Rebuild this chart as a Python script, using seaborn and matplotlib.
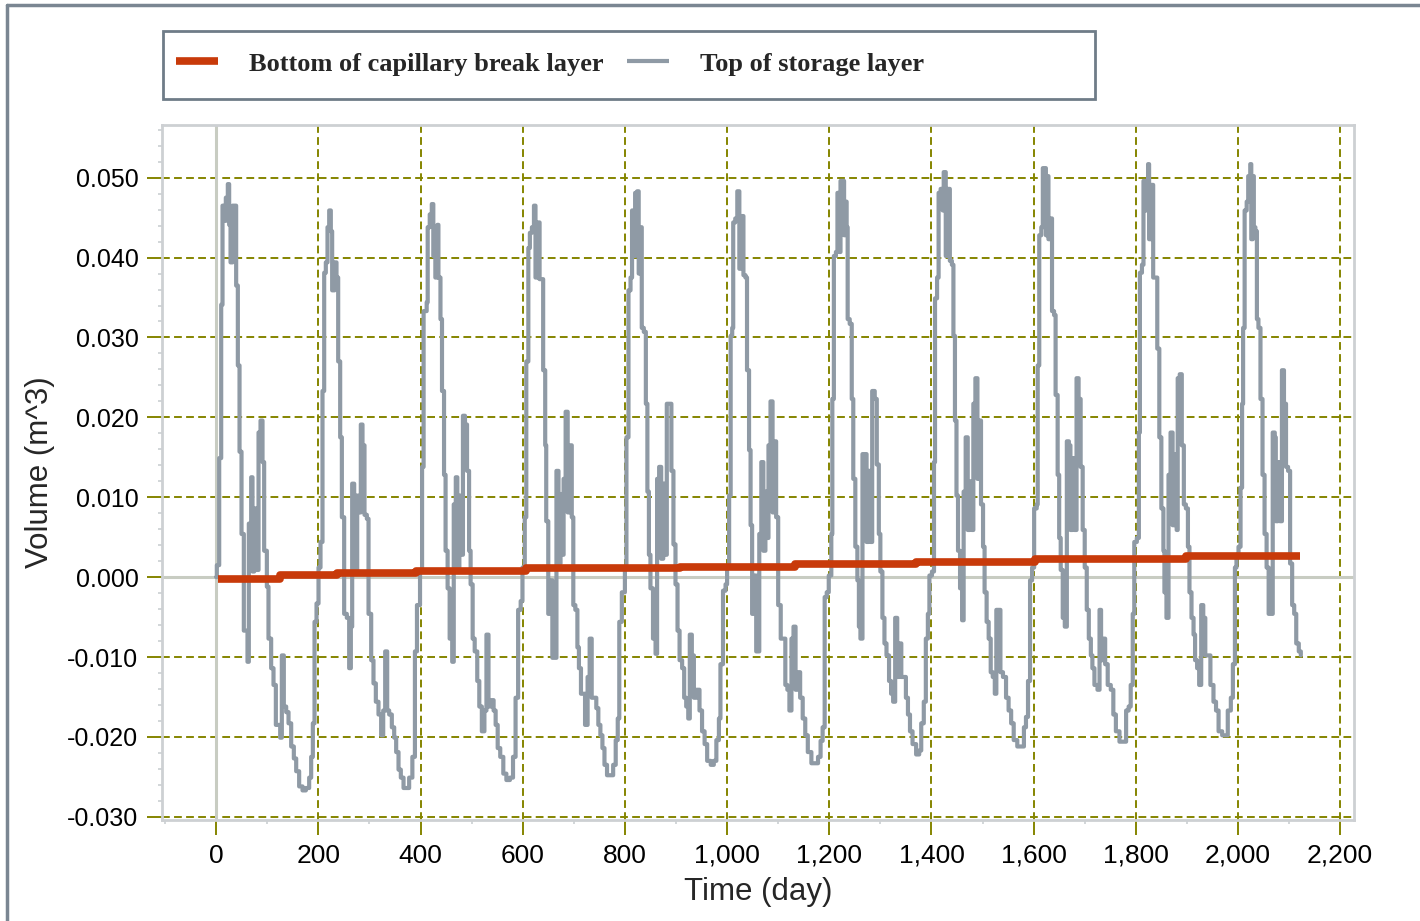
import matplotlib
matplotlib.use("Agg")
import matplotlib.pyplot as plt
import matplotlib.ticker as mticker
from matplotlib.patches import Rectangle
from matplotlib.lines import Line2D
import seaborn as sns
import pandas as pd

# ---- data ----
top_day = [
    0, 1.3, 5.9, 9.8, 12.4, 16.3, 18.9, 22.8, 25.4, 28.1, 32.0, 37.2, 39.1, 42.4, 45.7, 49.6, 54.1, 61.3, 63.9, 68.5,
    71.1, 74.4, 78.3, 82.9, 86.8, 90.7, 93.9, 99.2, 102.4, 107.6, 112.2, 116.8, 125.3, 128.5, 132.4, 137.0, 141.6,
    146.8, 152.0, 156.6, 162.4, 169.0, 175.5, 182.0, 185.9, 189.2, 192.5, 196.4,
    200.3, 204.2, 208.1, 211.4, 214.6, 217.9, 221.2, 224.4, 227.0, 231.6, 235.5, 238.8, 242.7, 246.0, 250.5, 255.7,
    260.3, 263.6, 266.2, 270.1, 273.4, 276.0, 279.9, 283.1, 286.4, 290.3, 294.9, 298.2, 303.4, 307.9, 312.5, 317.7,
    322.9, 326.9, 330.8, 334.7, 338.6, 343.8, 348.4, 352.3, 356.9, 361.4, 366.7, 373.2, 377.7,
    384, 389, 393, 399, 403, 406, 412, 414, 418, 422, 425, 429, 433, 435, 439, 442, 446, 449, 453, 457, 462, 465, 469,
    472, 476, 479, 483, 487, 491, 495, 498, 502, 506, 511, 515, 520, 525, 529, 533, 538, 543, 547, 551, 556, 562, 568,
    575, 581, 586, 591, 596,
    599.5, 604, 607, 611, 614, 618, 622, 625, 629, 633, 637, 640, 644, 646, 650, 654, 658, 662, 666, 670, 674, 678,
    680, 684, 688, 692, 696, 699, 703, 707, 710, 714, 718, 722, 727, 731, 735, 740, 744, 748, 752, 756, 760, 765, 772,
    777, 782, 786, 789, 794,
    800, 803, 807, 811, 814, 818, 820, 824, 827, 831, 833, 837, 841, 844, 847, 850, 855, 860, 863, 867, 871, 875, 879,
    882, 887, 891, 895, 899, 903, 907, 912, 916, 920, 924, 927, 931, 935, 940, 946, 951, 956, 961, 968, 974, 979, 984,
    987, 992, 997,
    1000, 1004, 1007, 1010, 1012, 1016, 1020, 1024, 1028, 1032, 1036, 1039, 1043, 1046, 1049, 1053, 1057, 1060, 1063,
    1067, 1071, 1075, 1079, 1081, 1085, 1089, 1092, 1096, 1100, 1105, 1110, 1114, 1118, 1122, 1126, 1130, 1134, 1138,
    1143, 1148, 1153, 1158, 1165, 1173, 1178, 1183, 1187, 1191, 1195,
    1199, 1204, 1206, 1209, 1213, 1216, 1220, 1222, 1226, 1229, 1231, 1234, 1236, 1240, 1244, 1247, 1251, 1255, 1258,
    1261, 1265, 1269, 1273, 1277, 1281, 1284, 1289, 1293, 1297, 1300, 1304, 1308, 1312, 1317, 1321, 1325, 1329, 1333,
    1337, 1341, 1346, 1350, 1354, 1358, 1363, 1370, 1376, 1380, 1385, 1389, 1393, 1396,
    1401, 1405, 1407, 1411, 1414, 1418, 1422, 1424, 1428, 1432, 1436, 1440, 1443, 1446, 1449, 1452, 1456, 1460, 1463,
    1467, 1471, 1475, 1479, 1482, 1486, 1490, 1494, 1497, 1501, 1504, 1508, 1512, 1516, 1520, 1524, 1527, 1531, 1535,
    1540, 1546, 1551, 1556, 1561, 1568, 1576, 1581, 1585, 1589, 1593, 1597,
    1601, 1606, 1608, 1611, 1615, 1618, 1622, 1624, 1627, 1629, 1633, 1636, 1640, 1643, 1647, 1650, 1653, 1657, 1661,
    1665, 1669, 1672, 1676, 1680, 1684, 1688, 1692, 1696, 1700, 1704, 1708, 1712, 1715, 1719, 1725, 1729, 1732, 1736,
    1740, 1745, 1751, 1756, 1761, 1768, 1776, 1781, 1786, 1790, 1794, 1797,
    1802, 1806, 1808, 1812, 1815, 1819, 1824, 1826, 1830, 1834, 1839, 1842, 1846, 1850, 1854, 1856, 1860, 1864, 1868,
    1872, 1876, 1880, 1882, 1886, 1890, 1894, 1898, 1902, 1905, 1909, 1913, 1916, 1920, 1924, 1928, 1932, 1936, 1941,
    1946, 1952, 1957, 1962, 1969, 1976, 1980, 1986, 1990, 1994, 1997,
    2001, 2005, 2008, 2010, 2013, 2017, 2020, 2024, 2026, 2029, 2031, 2034, 2037, 2040, 2044, 2048, 2052, 2056, 2060,
    2065, 2068, 2072, 2074, 2078, 2082, 2086, 2090, 2094, 2098, 2102, 2106, 2110, 2114, 2119, 2123,
]
top_vol = [
    0.0, 0.0015, 0.0149, 0.0341, 0.0465, 0.0446, 0.0475, 0.0492, 0.0441, 0.0394, 0.0465, 0.0465, 0.0365, 0.0265,
    0.0157, 0.0054, -0.0067, -0.0106, 0.0067, 0.0125, 0.0007, 0.0086, 0.0009, 0.0181, 0.0196, 0.0144, 0.0033,
    -0.0012, -0.0077, -0.0114, -0.0135, -0.0185, -0.0201, -0.0098, -0.0162, -0.0169, -0.0183, -0.0212, -0.0227,
    -0.0243, -0.0262, -0.0267, -0.0264, -0.0251, -0.0225, -0.0183, -0.0056, -0.0033,
    0.0012, 0.0044, 0.0233, 0.0381, 0.0394, 0.0438, 0.0459, 0.0433, 0.0359, 0.0394, 0.0375, 0.0270, 0.0175, 0.0075,
    -0.0046, -0.0051, -0.0114, -0.0062, 0.0117, 0.0102, 0.0004, 0.0102, 0.0081, 0.0191, 0.0165, 0.0078, 0.0073,
    -0.0046, -0.0104, -0.0133, -0.0156, -0.0172, -0.0198, -0.0167, -0.0093, -0.0167, -0.0172, -0.0188, -0.0201,
    -0.0219, -0.0241, -0.0251, -0.0264, -0.0264, -0.0251,
    -0.0225, -0.0093, -0.0035, 0.0007, 0.0138, 0.0333, 0.0344, 0.0438, 0.0454, 0.0467, 0.0402, 0.0375, 0.0441,
    0.0375, 0.0323, 0.0233, 0.0128, 0.0033, -0.0014, -0.0077, -0.0106, 0.0091, 0.0125, 0.0012, 0.0102, 0.0028,
    0.0202, 0.0191, 0.0133, 0.0033, -0.0009, -0.0077, -0.0093, -0.0130, -0.0162, -0.0193, -0.0167, -0.0072, -0.0162,
    -0.0154, -0.0167, -0.0185, -0.0214, -0.0225, -0.0246, -0.0254, -0.0251, -0.0225, -0.0151, -0.0041, -0.0030,
    0.0012, 0.0075, 0.0270, 0.0412, 0.0431, 0.0438, 0.0465, 0.0375, 0.0444, 0.0373, 0.0373, 0.0259, 0.0165, 0.0070,
    -0.0046, -0.0004, -0.0101, -0.0101, 0.0133, 0.0017, 0.0104, 0.0028, 0.0123, 0.0207, 0.0081, 0.0165, 0.0075,
    -0.0035, -0.0041, -0.0088, -0.0114, -0.0146, -0.0146, -0.0185, -0.0125, -0.0077, -0.0151, -0.0151, -0.0164,
    -0.0185, -0.0198, -0.0214, -0.0235, -0.0248, -0.0248, -0.0235, -0.0204, -0.0177, -0.0056, -0.0019,
    0.0012, 0.0175, 0.0359, 0.0375, 0.0459, 0.0402, 0.0481, 0.0483, 0.0380, 0.0438, 0.0312, 0.0307, 0.0217, 0.0107,
    0.0028, -0.0014, -0.0077, -0.0096, 0.0123, 0.0138, 0.0023, 0.0117, 0.0028, 0.0217, 0.0217, 0.0133, 0.0041,
    -0.0009, -0.0067, -0.0104, -0.0114, -0.0151, -0.0162, -0.0177, -0.0072, -0.0098, -0.0151, -0.0141, -0.0167,
    -0.0193, -0.0209, -0.0230, -0.0235, -0.0230, -0.0204, -0.0177, -0.0109, -0.0017, -0.0009,
    0.0012, 0.0102, 0.0302, 0.0312, 0.0444, 0.0449, 0.0483, 0.0386, 0.0452, 0.0378, 0.0375, 0.0259, 0.0159, 0.0065,
    -0.0046, 0.0002, -0.0093, -0.0093, 0.0054, 0.0144, 0.0033, 0.0107, 0.0049, 0.0165, 0.0220, 0.0081, 0.0170,
    0.0075, -0.0035, -0.0077, -0.0077, -0.0135, -0.0141, -0.0167, -0.0077, -0.0062, -0.0141, -0.0119, -0.0151,
    -0.0177, -0.0198, -0.0219, -0.0233, -0.0233, -0.0225, -0.0205, -0.0188, -0.0025, -0.0019,
    0.0002, 0.0054, 0.0223, 0.0402, 0.0407, 0.0481, 0.0407, 0.0496, 0.0496, 0.0428, 0.0470, 0.0438, 0.0323, 0.0317,
    0.0223, 0.0123, 0.0038, -0.0004, -0.0062, -0.0077, 0.0154, 0.0154, 0.0044, 0.0133, 0.0044, 0.0233, 0.0223,
    0.0141, 0.0054, 0.0007, -0.0051, -0.0083, -0.0098, -0.0130, -0.0146, -0.0156, -0.0051, -0.0125, -0.0083,
    -0.0125, -0.0125, -0.0151, -0.0172, -0.0193, -0.0209, -0.0222, -0.0217, -0.0183, -0.0156, -0.0077, -0.0046, 0.0002,
    0.0007, 0.0144, 0.0349, 0.0375, 0.0481, 0.0486, 0.0459, 0.0507, 0.0402, 0.0486, 0.0396, 0.0391, 0.0302, 0.0196,
    0.0102, 0.0033, -0.0014, -0.0054, 0.0107, 0.0175, 0.0059, 0.0120, 0.0059, 0.0217, 0.0249, 0.0123, 0.0196,
    0.0091, 0.0038, -0.0019, -0.0056, -0.0077, -0.0119, -0.0125, -0.0146, -0.0041, -0.0041, -0.0119, -0.0125,
    -0.0151, -0.0167, -0.0183, -0.0204, -0.0212, -0.0212, -0.0188, -0.0175, -0.0130, -0.0004, 0.0012,
    0.0086, 0.0091, 0.0265, 0.0428, 0.0438, 0.0512, 0.0512, 0.0428, 0.0502, 0.0423, 0.0449, 0.0333, 0.0328, 0.0228,
    0.0128, 0.0049, 0.0009, -0.0051, -0.0062, 0.0170, 0.0165, 0.0059, 0.0149, 0.0059, 0.0249, 0.0223, 0.0138,
    0.0059, 0.0012, -0.0041, -0.0077, -0.0098, -0.0114, -0.0135, -0.0141, -0.0041, -0.0104, -0.0077, -0.0109,
    -0.0135, -0.0141, -0.0172, -0.0193, -0.0206, -0.0206, -0.0167, -0.0162, -0.0135, -0.0046, 0.0044,
    0.0049, 0.0181, 0.0381, 0.0391, 0.0496, 0.0459, 0.0517, 0.0423, 0.0491, 0.0375, 0.0375, 0.0286, 0.0175, 0.0086,
    0.0033, -0.0019, -0.0051, 0.0128, 0.0181, 0.0065, 0.0154, 0.0059, 0.0249, 0.0254, 0.0165, 0.0091, 0.0086,
    0.0038, -0.0019, -0.0051, -0.0072, -0.0104, -0.0114, -0.0135, -0.0035, -0.0051, -0.0098, -0.0098, -0.0135,
    -0.0156, -0.0167, -0.0193, -0.0198, -0.0198, -0.0167, -0.0151, -0.0109, 0.0012, 0.0028,
    0.0038, 0.0112, 0.0217, 0.0312, 0.0459, 0.0470, 0.0502, 0.0517, 0.0423, 0.0502, 0.0438, 0.0433, 0.0323, 0.0312,
    0.0223, 0.0128, 0.0054, 0.0012, -0.0046, -0.0046, 0.0181, 0.0175, 0.0070, 0.0144, 0.0070, 0.0259, 0.0217,
    0.0138, 0.0133, 0.0017, -0.0035, -0.0046, -0.0083, -0.0093, -0.0098,
]

bottom_day = [3, 125, 236, 392, 606, 907, 1132, 1369, 1603, 1898, 2122]
bottom_vol = [-0.0002, 0.0003, 0.0005, 0.0008, 0.0011, 0.0013, 0.0016, 0.0019, 0.0023, 0.0026, 0.0026]

series_names = ["Bottom of capillary break layer", "Top of storage layer"]
series_colors = ["#C83A0A", "#8F9AA5"]

x_ticks = list(range(0, 2201, 200))
y_ticks = [-0.03, -0.02, -0.01, 0.0, 0.01, 0.02, 0.03, 0.04, 0.05]

# ---- figure ----
sns.set_style("white")
plt.rcParams["font.family"] = ["Liberation Sans", "DejaVu Sans"]

fig = plt.figure(figsize=(14.2, 9.21), dpi=100)
ax = fig.add_axes([0.1141, 0.1097, 0.8394, 0.7546])

OLIVE = "#858500"
ax.set_axisbelow(True)
ax.grid(True, which="major", color=OLIVE, linestyle=(0, (4, 2.2)), linewidth=1.4)
ax.axhline(0, color="#C8CCC2", lw=2.2, zorder=1.5)
ax.axvline(0, color="#C8CCC2", lw=2.2, zorder=1.5)

top_df = pd.DataFrame({"day": top_day, "vol": top_vol, "series": series_names[1]})
bot_df = pd.DataFrame({"day": bottom_day, "vol": bottom_vol, "series": series_names[0]})

sns.lineplot(data=top_df, x="day", y="vol", color=series_colors[1], lw=3.0,
             estimator=None, sort=False, ax=ax, legend=False, zorder=3,
             drawstyle="steps-post")
sns.lineplot(data=bot_df, x="day", y="vol", color=series_colors[0], lw=5.5,
             estimator=None, sort=False, ax=ax, legend=False, zorder=4,
             drawstyle="steps-post", solid_capstyle="butt")

ax.set_xlim(-106, 2227)
ax.set_ylim(-0.0304, 0.0566)
ax.set_xticks(x_ticks)
ax.set_yticks(y_ticks)
ax.xaxis.set_minor_locator(mticker.MultipleLocator(100))
ax.yaxis.set_minor_locator(mticker.MultipleLocator(0.002))
ax.xaxis.set_major_formatter(mticker.FuncFormatter(lambda v, p: f"{int(round(v)):,}"))
ax.yaxis.set_major_formatter(mticker.FuncFormatter(lambda v, p: f"{v:.3f}"))

ax.tick_params(axis="both", which="major", direction="out", length=11, width=1.4,
               color=OLIVE, labelsize=18, labelcolor="black", pad=6)
ax.tick_params(axis="x", which="major", labelsize=19)
ax.tick_params(axis="both", which="minor", direction="out", length=3, width=1.2,
               color="#CBCFD2")
ax.tick_params(axis="x", which="both", bottom=True)
ax.tick_params(axis="y", which="both", left=True)

for s in ax.spines.values():
    s.set_color("#CDD0D3")
    s.set_linewidth(2.0)

ax.set_xlabel("Time (day)", fontsize=22.5, labelpad=7)
ax.set_ylabel("Volume (m^3)", fontsize=22.5, labelpad=9)

# legend box
fig.patches.append(Rectangle((163 / 1420, 1 - 99 / 921), (1095 - 163) / 1420, (99 - 31) / 921,
                             transform=fig.transFigure, fill=False, edgecolor="#6F7C88", lw=2.0))
handles = [Line2D([], [], color=series_colors[0], lw=5.5, solid_capstyle="butt"),
           Line2D([], [], color=series_colors[1], lw=3.0, solid_capstyle="butt")]
fig.legend(handles, series_names, loc="center left", bbox_to_anchor=(176 / 1420, 1 - 64 / 921),
           ncol=2, frameon=False, handlelength=1.6, handletextpad=1.15, columnspacing=0.9,
           prop={"family": ["Liberation Serif", "DejaVu Serif"], "weight": "bold", "size": 19},
           borderaxespad=0, borderpad=0)

# outer frame
fig.add_artist(Line2D([6.5 / 1420, 6.5 / 1420], [0, 1 - 5 / 921], transform=fig.transFigure,
                      color="#7A8692", lw=2.5))
fig.add_artist(Line2D([6.5 / 1420, 1], [1 - 5 / 921, 1 - 5 / 921], transform=fig.transFigure,
                      color="#7A8692", lw=2.5))

fig.savefig("out.png", dpi=100)
